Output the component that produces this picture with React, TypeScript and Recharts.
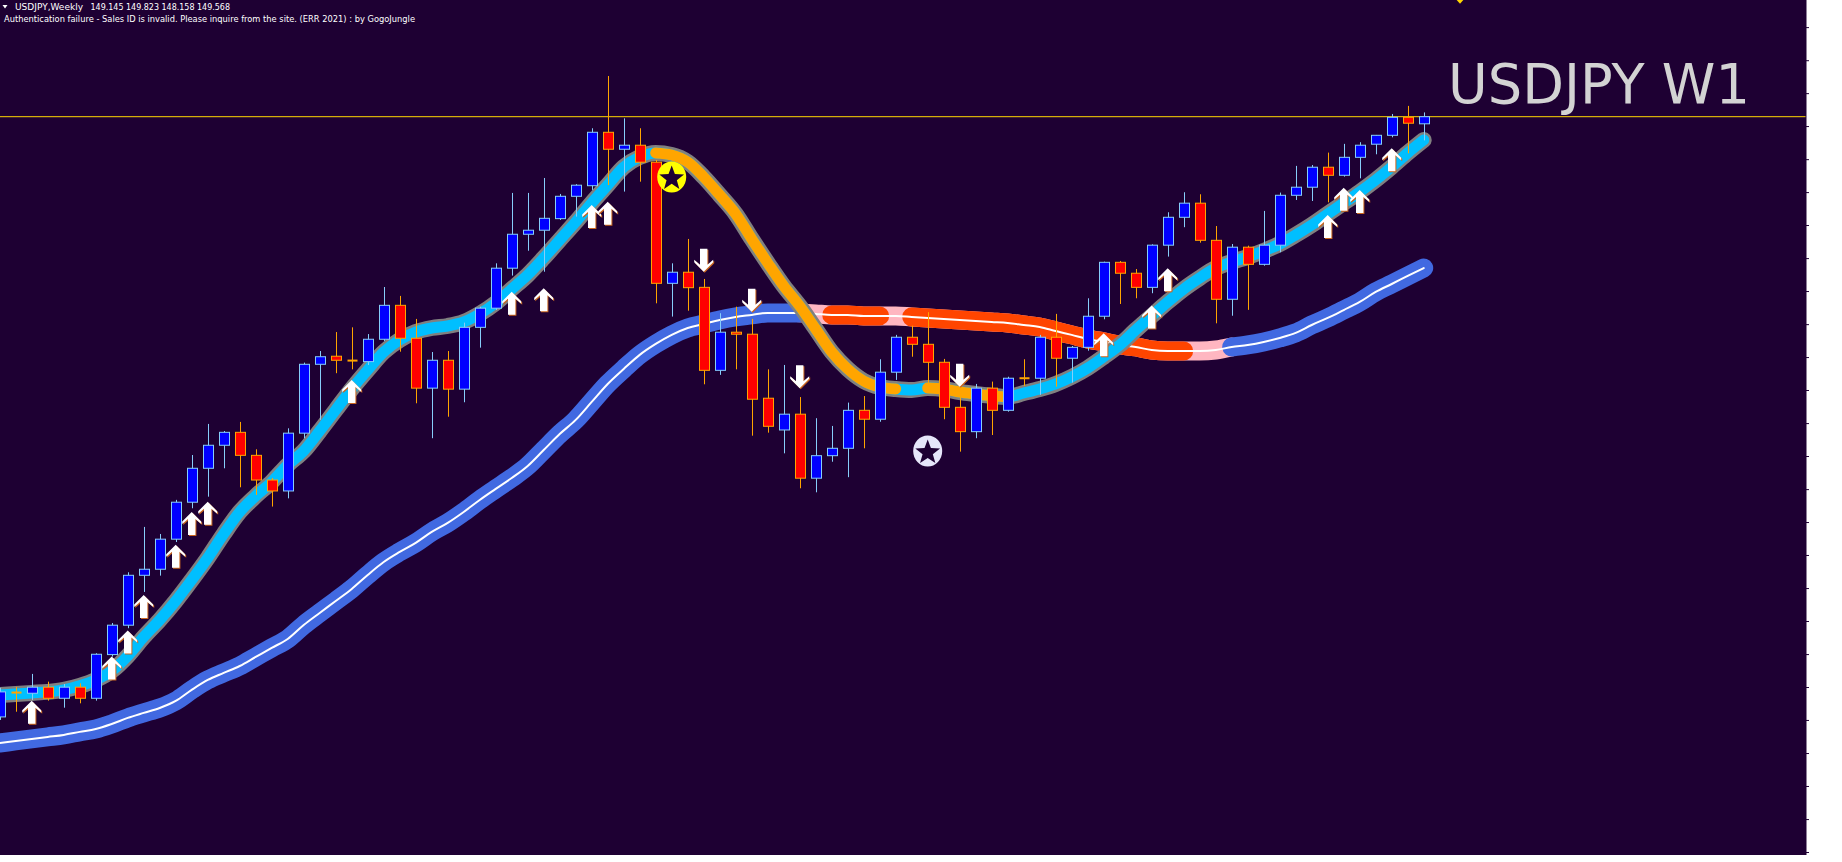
import React from 'react';
import { ComposedChart, Line, Bar, Scatter, XAxis, YAxis, ReferenceLine } from 'recharts';

// ---- Weekly USDJPY candles (index = bar number, left to right) ----
const opens = [
  113.84, 115.29, 115.25, 115.61, 114.95, 115.61, 114.95, 117.55, 119.30, 122.27,
  122.63, 124.42, 126.62, 128.64, 130.01, 130.78, 129.41, 127.94, 127.29, 130.73,
  134.83, 135.31, 135.05, 134.99, 136.32, 138.34, 136.38, 133.41, 135.07, 133.35,
  137.03, 138.17, 140.55, 142.57, 142.81, 143.50, 144.83, 145.46, 148.64, 147.63,
  147.87, 146.86, 139.65, 140.31, 139.41, 134.47, 136.74, 136.62, 132.81, 130.92,
  131.86, 128.05, 129.39, 129.83, 132.09, 131.56, 134.36, 136.44, 136.02, 134.95,
  132.27, 130.82, 133.41, 132.09, 134.00, 134.00, 136.44, 135.19, 135.84, 137.69,
  140.90, 140.25, 139.41, 141.92, 143.58, 144.42, 142.21, 138.70, 141.80, 140.78,
  141.92, 144.89, 145.37, 146.56, 146.08, 147.15, 147.93, 148.46, 149.53, 149.145,
];
const highs = [
  115.57, 115.63, 116.40, 115.94, 115.80, 115.84, 117.63, 119.43, 122.45, 125.15,
  124.73, 126.76, 129.43, 131.28, 130.86, 131.40, 129.77, 128.06, 131.02, 134.93,
  135.62, 136.75, 137.03, 136.63, 139.43, 138.90, 137.53, 135.56, 135.62, 137.31,
  138.26, 140.84, 145.03, 145.03, 145.92, 144.97, 145.55, 148.88, 151.99, 149.47,
  148.88, 146.99, 140.84, 142.29, 139.91, 137.87, 138.26, 137.53, 134.53, 134.79,
  132.88, 131.62, 131.16, 132.55, 132.94, 135.13, 136.58, 137.13, 137.93, 135.15,
  132.90, 133.66, 133.80, 134.09, 135.13, 136.58, 137.83, 135.92, 138.76, 140.94,
  140.98, 140.50, 141.97, 143.88, 145.07, 144.95, 143.06, 141.99, 141.89, 143.96,
  145.05, 146.64, 146.69, 147.43, 147.95, 148.05, 148.48, 149.73, 150.21, 149.823,
];
const lows = [
  113.66, 114.15, 114.85, 114.81, 114.39, 114.65, 114.81, 117.43, 119.12, 121.28,
  122.25, 124.25, 126.26, 126.95, 128.64, 127.51, 127.05, 126.36, 126.85, 130.43,
  131.52, 134.30, 134.53, 134.79, 136.22, 135.58, 132.51, 130.43, 131.71, 132.57,
  135.82, 138.07, 140.11, 141.59, 140.34, 143.42, 143.62, 145.21, 145.50, 145.11,
  145.70, 138.46, 137.67, 138.02, 133.64, 134.20, 134.53, 130.58, 130.76, 129.53,
  127.45, 127.21, 129.03, 128.11, 129.83, 131.41, 133.90, 135.28, 133.70, 131.56,
  129.63, 130.43, 130.62, 132.01, 133.54, 133.01, 133.50, 133.74, 135.64, 137.51,
  138.42, 138.76, 139.06, 141.24, 142.99, 142.07, 137.27, 137.72, 138.07, 140.70,
  141.50, 144.61, 144.55, 144.47, 146.00, 145.90, 147.33, 148.34, 147.39, 148.158,
];
const closes = [
  115.33, 115.29, 115.61, 114.95, 115.61, 114.95, 117.57, 119.30, 122.27, 122.63,
  124.42, 126.62, 128.64, 130.01, 130.78, 129.41, 127.94, 127.29, 130.73, 134.83,
  135.28, 135.07, 135.05, 136.32, 138.34, 136.38, 133.41, 135.07, 133.35, 137.03,
  138.17, 140.55, 142.57, 142.81, 143.52, 144.83, 145.49, 148.64, 147.63, 147.87,
  146.86, 139.65, 140.31, 139.39, 134.47, 136.74, 136.62, 132.75, 131.14, 131.86,
  128.05, 129.39, 129.83, 132.09, 131.56, 134.36, 136.44, 136.02, 134.95, 132.27,
  130.82, 133.41, 132.09, 134.00, 134.00, 136.44, 135.19, 135.84, 137.69, 140.90,
  140.25, 139.41, 141.92, 143.58, 144.42, 142.21, 138.70, 141.80, 140.78, 141.92,
  144.89, 145.37, 146.56, 146.08, 147.15, 147.87, 148.46, 149.53, 149.18, 149.568,
];

// ---- Fast trend line (cyan / orange) ----
const fastLine = [
  115.15, 115.21, 115.27, 115.33, 115.45, 115.69, 116.04, 116.58, 117.47, 118.60,
  119.61, 120.74, 121.99, 123.30, 124.73, 126.04, 126.99, 127.83, 128.84, 129.67,
  130.86, 132.11, 133.36, 134.49, 135.56, 136.28, 136.75, 136.99, 137.11, 137.35,
  137.83, 138.48, 139.31, 140.15, 141.16, 142.23, 143.30, 144.43, 145.50, 146.57,
  147.17, 147.41, 147.29, 146.87, 145.98, 144.91, 143.78, 142.29, 140.86, 139.49,
  138.30, 136.93, 135.56, 134.55, 133.84, 133.48, 133.36, 133.30, 133.42, 133.36,
  133.18, 133.06, 132.95, 132.89, 133.12, 133.36, 133.66, 134.08, 134.61, 135.27,
  135.98, 136.87, 137.71, 138.54, 139.31, 139.97, 140.56, 140.92, 141.22, 141.58,
  141.99, 142.53, 143.12, 143.78, 144.43, 145.09, 145.80, 146.58, 147.41, 148.18,
];
const fastDownRanges = [[41, 56], [58, 63]];

// ---- Slow trend line (blue / red with pink transitions) ----
const slowLine = [
  112.29, 112.41, 112.53, 112.65, 112.77, 112.95, 113.12, 113.42, 113.78, 114.08,
  114.37, 114.79, 115.45, 116.04, 116.46, 116.87, 117.41, 117.95, 118.48, 119.31,
  120.03, 120.74, 121.46, 122.29, 123.06, 123.66, 124.20, 124.85, 125.39, 126.04,
  126.75, 127.41, 128.06, 128.78, 129.73, 130.68, 131.52, 132.59, 133.66, 134.55,
  135.39, 136.04, 136.58, 136.99, 137.23, 137.47, 137.65, 137.77, 137.89, 137.89,
  137.89, 137.83, 137.77, 137.77, 137.71, 137.71, 137.71, 137.65, 137.59, 137.53,
  137.47, 137.41, 137.35, 137.29, 137.17, 137.05, 136.81, 136.58, 136.34, 136.16,
  135.98, 135.86, 135.68, 135.62, 135.62, 135.62, 135.68, 135.86, 135.98, 136.16,
  136.40, 136.70, 137.17, 137.59, 138.06, 138.54, 139.14, 139.61, 140.09, 140.56,
];
const slowBlueRanges = [[0, 50], [77, 89]];
const slowRedRanges = [[52, 55], [57, 74]];
const slowPinkRange = [50, 77];

// ---- Signals ----
const upArrowBars = [2, 7, 8, 9, 11, 12, 13, 22, 32, 34, 37, 38, 69, 72, 73, 83, 84, 85, 87];
const upArrowPrices = [114.81, 117.43, 118.98, 121.10, 124.09, 126.04, 126.65, 133.90, 139.15, 139.36, 144.31, 144.51, 136.68, 138.33, 140.55, 143.72, 145.34, 145.21, 147.69];
const downArrowBars = [44, 47, 50, 60];
const downArrowPrices = [140.34, 137.96, 133.40, 133.50];
const starBars = [42, 58];
const starPrices = [145.98, 129.67];
const starColors = ['#ffff00', '#e6e6fa'];
const topMarkerBar = [91.27];
const topMarkerPrice = [156.5];

const lastPrice = 149.568;
const priceTicks = [154.87, 152.90, 150.94, 148.98, 147.01, 145.05, 143.09, 141.12, 139.16, 137.19, 135.23, 133.27, 131.30, 129.34, 127.37, 125.41, 123.45, 121.48, 119.52, 117.55, 115.59, 113.63, 111.66, 109.70, 107.73, 105.77];

const X_DOMAIN = [0.01875, 112.894];
const Y_DOMAIN = [105.621, 156.514];

const inRange = (k: number, ranges: number[][]) => ranges.some(([a, b]) => k >= a && k <= b);

const rows = closes.map((c, k) => ({
  k,
  open: opens[k],
  high: highs[k],
  low: lows[k],
  close: c,
  hl: [lows[k], highs[k]],
  fast: fastLine[k],
  fastDown: inRange(k, fastDownRanges) ? fastLine[k] : null,
  slow: slowLine[k],
  slowBlue: inRange(k, slowBlueRanges) ? slowLine[k] : null,
  slowRed: inRange(k, slowRedRanges) ? slowLine[k] : null,
  slowPink: inRange(k, [slowPinkRange]) ? slowLine[k] : null,
}));

const upArrows = upArrowBars.map((k, i) => ({ k, p: upArrowPrices[i] }));
const downArrows = downArrowBars.map((k, i) => ({ k, p: downArrowPrices[i] }));
const stars = starBars.map((k, i) => ({ k, p: starPrices[i], color: starColors[i] }));
const topMarkers = topMarkerBar.map((k, i) => ({ k, p: topMarkerPrice[i] }));

const BG = '#1e0033';

const Candle = (props: any) => {
  const { x, y, width, height, payload } = props;
  if (x == null || y == null) return null;
  const top = Math.min(y, y + height);
  const h = Math.abs(height);
  const cx = Math.round(x + width / 2);
  const { open, close, high, low } = payload;
  const span = high - low;
  const toY = (p: number) => (span === 0 ? top : top + ((high - p) / span) * h);
  const yO = toY(open);
  const yC = toY(close);
  const bull = close > open;
  const wick = bull ? '#87cefa' : '#ffa500';
  const fill = bull ? '#0000ff' : '#ff0000';
  const bTop = Math.min(yO, yC);
  const bH = Math.abs(yO - yC);
  return (
    <g>
      <line x1={cx + 0.5} x2={cx + 0.5} y1={top} y2={top + h} stroke={wick} strokeWidth={1} />
      {bH < 1.2 ? (
        <line x1={cx - 4.5} x2={cx + 5.5} y1={bTop} y2={bTop} stroke="#ffa500" strokeWidth={2} />
      ) : (
        <rect x={cx - 4.5} y={bTop} width={10} height={bH} fill={fill} stroke={wick} strokeWidth={1} />
      )}
    </g>
  );
};

const UpArrow = (props: any) => {
  const { cx, cy } = props;
  const pts = [[0, 0], [9.5, 9.5], [9.5, 12], [3.7, 7], [3.7, 23], [-3.7, 23], [-3.7, 7], [-9.5, 12], [-9.5, 9.5]];
  const toStr = (dx: number, dy: number) => pts.map(([a, b]) => `${cx + a + dx},${cy + b + dy}`).join(' ');
  return (
    <g>
      <polygon points={toStr(1, 1)} fill="#c8641e" />
      <polygon points={toStr(0, 0)} fill="#ffffff" />
    </g>
  );
};

const DownArrow = (props: any) => {
  const { cx, cy } = props;
  const pts = [[0, 0], [9.5, -9.5], [9.5, -12], [3.7, -7], [3.7, -23], [-3.7, -23], [-3.7, -7], [-9.5, -12], [-9.5, -9.5]];
  const toStr = (dx: number, dy: number) => pts.map(([a, b]) => `${cx + a + dx},${cy + b + dy}`).join(' ');
  return (
    <g>
      <polygon points={toStr(1, 1)} fill="#c8641e" />
      <polygon points={toStr(0, 0)} fill="#ffffff" />
    </g>
  );
};

const StarBadge = (props: any) => {
  const { cx, cy, payload } = props;
  const pts: string[] = [];
  for (let i = 0; i < 10; i++) {
    const a = -Math.PI / 2 + (i * Math.PI) / 5;
    const r = i % 2 === 0 ? 13 : 5.4;
    pts.push(`${cx + r * Math.cos(a)},${cy + 1.5 + r * Math.sin(a)}`);
  }
  return (
    <g>
      <ellipse cx={cx} cy={cy} rx={14.5} ry={15.5} fill={payload.color} />
      <polygon points={pts.join(' ')} fill={BG} />
    </g>
  );
};

const TopMarker = (props: any) => {
  const { cx, cy } = props;
  return <polygon points={`${cx - 4},${cy - 1} ${cx + 4},${cy - 1} ${cx},${cy + 3.5}`} fill="#ffd700" />;
};

const lineCommon = {
  type: 'monotone' as const,
  dot: false,
  activeDot: false,
  isAnimationActive: false,
  connectNulls: false,
  strokeLinecap: 'round' as const,
  strokeLinejoin: 'round' as const,
};

export default function App() {
  return (
    <div style={{ position: 'absolute', left: 0, top: 0, width: 1842, height: 862, background: '#ffffff', overflow: 'hidden' }}>
      <div style={{ position: 'absolute', left: 0, top: 0, width: 1806, height: 855, background: BG }} />
      <div style={{ position: 'absolute', left: 0, top: 0 }}>
        <ComposedChart width={1842} height={862} data={rows} margin={{ top: 0, right: 0, bottom: 7, left: 0 }}>
          <XAxis dataKey="k" type="number" domain={X_DOMAIN} allowDataOverflow hide />
          <YAxis
            orientation="right"
            type="number"
            domain={Y_DOMAIN}
            allowDataOverflow
            width={36}
            ticks={priceTicks}
            interval={0}
            tick={() => <g />}
            tickSize={3}
            tickLine={{ stroke: '#1e0033' }}
            axisLine={{ stroke: '#1e0033' }}
          />
          <ReferenceLine y={lastPrice} stroke="#ffd700" strokeWidth={1} />

          <Line {...lineCommon} dataKey="slowPink" stroke="#ffb6c1" strokeWidth={19} zIndex={401} />
          <Line {...lineCommon} dataKey="slowBlue" stroke="#4169e1" strokeWidth={19} zIndex={402} />
          <Line {...lineCommon} dataKey="slowRed" stroke="#ff4500" strokeWidth={19} zIndex={403} />
          <Line {...lineCommon} dataKey="slow" stroke="#ffffff" strokeWidth={2} zIndex={404} />

          <Line {...lineCommon} dataKey="fast" stroke="#808080" strokeWidth={16} zIndex={405} />
          <Line {...lineCommon} dataKey="fast" stroke="#00bfff" strokeWidth={11} zIndex={406} />
          <Line {...lineCommon} dataKey="fastDown" stroke="#ffa500" strokeWidth={11} zIndex={407} />

          <Bar dataKey="hl" barSize={16} shape={<Candle />} isAnimationActive={false} zIndex={450} />

          <Scatter data={upArrows} dataKey="p" shape={<UpArrow />} isAnimationActive={false} />
          <Scatter data={downArrows} dataKey="p" shape={<DownArrow />} isAnimationActive={false} />
          <Scatter data={stars} dataKey="p" shape={<StarBadge />} isAnimationActive={false} />
          <Scatter data={topMarkers} dataKey="p" shape={<TopMarker />} isAnimationActive={false} />
        </ComposedChart>
      </div>
      <svg width={1842} height={862} style={{ position: 'absolute', left: 0, top: 0, pointerEvents: 'none' }}>
        <polygon points="2.5,5 7.5,5 5,8.5" fill="#ffffff" />
        <text x={15} y={9.5} fontFamily="DejaVu Sans" fontSize={9.5} fill="#ffffff" textLength={68} lengthAdjust="spacingAndGlyphs">USDJPY,Weekly</text>
        <text x={90.5} y={9.5} fontFamily="DejaVu Sans" fontSize={9.5} fill="#ffffff" textLength={139.5} lengthAdjust="spacingAndGlyphs">149.145 149.823 148.158 149.568</text>
        <text x={4} y={22} fontFamily="DejaVu Sans" fontSize={9.5} fill="#ffffff" textLength={411} lengthAdjust="spacingAndGlyphs">Authentication failure - Sales ID is invalid. Please inquire from the site. (ERR 2021) : by GogoJungle</text>
        <text x={1448} y={103} fontFamily="DejaVu Sans" fontSize={55} fill="#d3d3d3" textLength={302} lengthAdjust="spacingAndGlyphs">USDJPY W1</text>
      </svg>
    </div>
  );
}
